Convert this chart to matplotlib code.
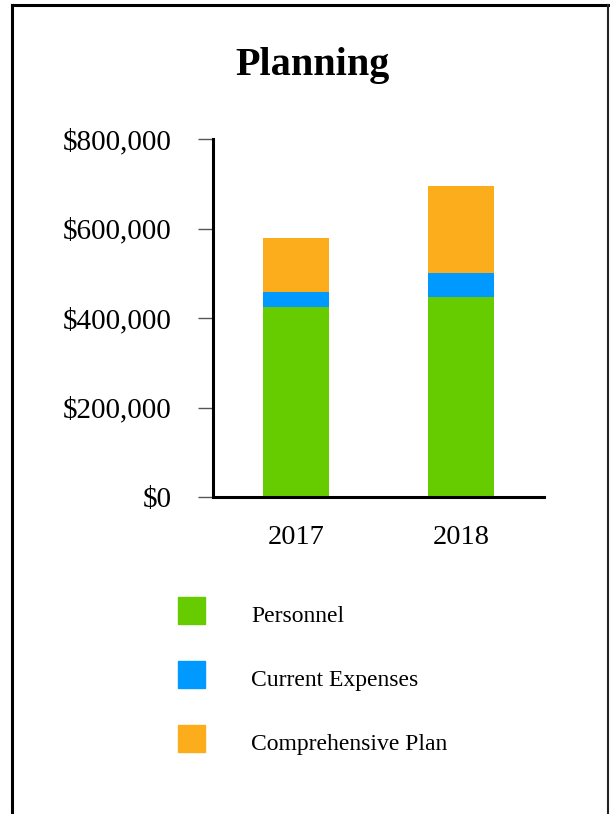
import matplotlib
matplotlib.use("Agg")
import matplotlib.pyplot as plt
from matplotlib.patches import Rectangle
from matplotlib.lines import Line2D
from matplotlib.ticker import FuncFormatter

years = ["2017", "2018"]
series_names = ["Personnel", "Current Expenses", "Comprehensive Plan"]
personnel = [425000, 447000]
current_expenses = [33000, 54000]
comprehensive_plan = [121000, 195000]
colors = ["#66CC00", "#0099FF", "#FBAD1C"]
yticks = [0, 200000, 400000, 600000, 800000]

plt.rcParams["font.family"] = ["Liberation Serif", "DejaVu Serif"]

W, H = 610, 814
fig = plt.figure(figsize=(W / 100, H / 100), dpi=100)

def fx(px):
    return px / W

def fy(py):
    return 1 - py / H

# outer frame
fig.add_artist(Line2D([fx(12), fx(12)], [fy(5), fy(820)], color="black", lw=2.2))
fig.add_artist(Line2D([fx(12), fx(608)], [fy(5), fy(5)], color="black", lw=2.2))
fig.add_artist(Line2D([fx(608), fx(608)], [fy(5), fy(820)], color="#222222", lw=1.5))

fig.text(fx(312), fy(75), "Planning", ha="center", va="baseline",
         fontsize=29, fontweight="bold")

ax = fig.add_axes([fx(213), fy(497), fx(544) - fx(213), fy(139) - fy(497)])
x = range(len(years))
bottom = [0, 0]
for vals, c in zip([personnel, current_expenses, comprehensive_plan], colors):
    ax.bar(x, vals, width=0.4, bottom=bottom, color=c)
    bottom = [b + v for b, v in zip(bottom, vals)]

ax.set_xlim(-0.5, 1.5)
ax.set_ylim(0, 800000)
ax.set_yticks(yticks)
ax.yaxis.set_major_formatter(FuncFormatter(lambda v, p: f"${v:,.0f}"))
ax.set_xticks(list(x))
ax.set_xticklabels(years)
for side in ["top", "right"]:
    ax.spines[side].set_visible(False)
for side in ["left", "bottom"]:
    ax.spines[side].set_linewidth(2.2)
ax.tick_params(axis="y", length=11, width=1, color="#555555", labelsize=21, pad=19)
ax.tick_params(axis="x", length=0, labelsize=20.5, pad=20)

# legend
for i, (name, c) in enumerate(zip(series_names, colors)):
    top = 597 + i * 64
    fig.add_artist(Rectangle((fx(178), fy(top + 27)), fx(27), fy(0) - fy(27),
                             color=c, transform=fig.transFigure))
    fig.text(fx(251), fy(top + 25), name, ha="left", va="baseline", fontsize=17)

fig.savefig("out.png", dpi=100)
